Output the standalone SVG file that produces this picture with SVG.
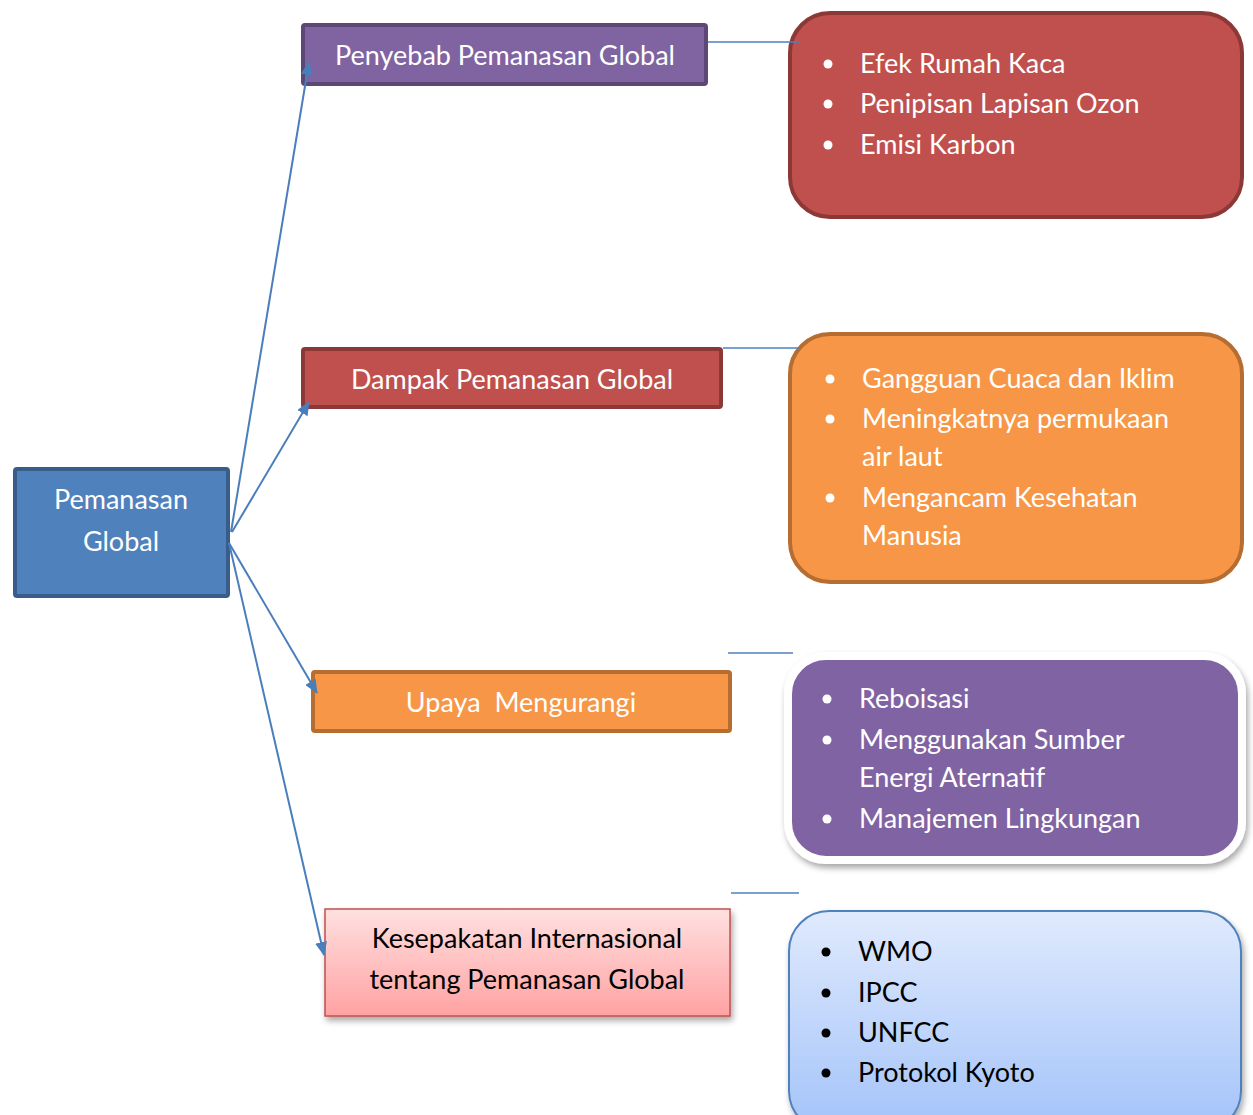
<svg xmlns="http://www.w3.org/2000/svg" width="1253" height="1115" viewBox="0 0 1253 1115">
<defs>
<marker id="arr" viewBox="0 0 14 12" refX="13" refY="6" markerWidth="14" markerHeight="12" markerUnits="userSpaceOnUse" orient="auto">
<path d="M0,0 L14,6 L0,12 z" fill="#4A7EBB"/>
</marker>
<linearGradient id="pink" x1="0" y1="0" x2="0" y2="1">
<stop offset="0" stop-color="#FFE0E0"/><stop offset="1" stop-color="#FFA2A2"/>
</linearGradient>
<linearGradient id="blue" x1="0" y1="0" x2="0" y2="1">
<stop offset="0" stop-color="#E0EAFD"/><stop offset="1" stop-color="#A3C3F9"/>
</linearGradient>
<filter id="sh" x="-10%" y="-10%" width="125%" height="130%">
<feGaussianBlur in="SourceAlpha" stdDeviation="3"/>
<feOffset dx="2" dy="4"/>
<feComponentTransfer><feFuncA type="linear" slope="0.35"/></feComponentTransfer>
<feMerge><feMergeNode/><feMergeNode in="SourceGraphic"/></feMerge>
</filter>
</defs>
<style>
text{font-family:Lato,"Open Sans","Liberation Sans",sans-serif;font-size:27px}
.w{fill:#ffffff}
.k{fill:#000000}
.c{text-anchor:middle}
.con{stroke:#4A7EBB;stroke-width:2;fill:none}
.hl{stroke:#4F81BD;stroke-width:1.5;fill:none}
</style>
<rect width="1253" height="1115" fill="#ffffff"/>
<g id="pemanasan">
<rect x="15" y="469" width="213" height="127" rx="2" fill="#4F81BD" stroke="#385D8A" stroke-width="4"/>
<text class="w c" x="121" y="509">Pemanasan</text>
<text class="w c" x="121" y="551">Global</text>
</g>
<g id="penyebab">
<rect x="303" y="25" width="403" height="59" rx="2" fill="#8064A2" stroke="#5C4776" stroke-width="4"/>
<text class="w c" x="505" y="65">Penyebab Pemanasan Global</text>
</g>
<g id="dampak">
<rect x="303" y="349" width="418" height="58" rx="2" fill="#C0504D" stroke="#8C3836" stroke-width="4"/>
<text class="w c" x="512" y="389">Dampak Pemanasan Global</text>
</g>
<g id="upaya">
<rect x="313" y="672" width="417" height="59" rx="2" fill="#F79646" stroke="#B66D31" stroke-width="4"/>
<text class="w c" x="521" y="712" xml:space="preserve">Upaya  Mengurangi</text>
</g>
<g id="kesepakatan">
<rect x="325" y="909" width="405" height="107" fill="url(#pink)" stroke="#C0504D" stroke-width="1.5" filter="url(#sh)"/>
<text class="k c" x="527" y="948">Kesepakatan Internasional</text>
<text class="k c" x="527" y="989">tentang Pemanasan Global</text>
</g>
<g id="penyebab-list">
<rect x="790" y="13" width="452" height="204" rx="40" fill="#C0504D" stroke="#8C3836" stroke-width="4"/>
<circle cx="828" cy="64" r="4.5" fill="#fff"/><text class="w" x="860" y="73">Efek Rumah Kaca</text>
<circle cx="828" cy="104" r="4.5" fill="#fff"/><text class="w" x="860" y="113">Penipisan Lapisan Ozon</text>
<circle cx="828" cy="145" r="4.5" fill="#fff"/><text class="w" x="860" y="154">Emisi Karbon</text>
</g>
<g id="dampak-list">
<rect x="790" y="334" width="452" height="248" rx="40" fill="#F79646" stroke="#B66D31" stroke-width="4"/>
<circle cx="830" cy="379" r="4.5" fill="#fff"/><text class="w" x="862" y="388">Gangguan Cuaca dan Iklim</text>
<circle cx="830" cy="419" r="4.5" fill="#fff"/><text class="w" x="862" y="428">Meningkatnya permukaan</text>
<text class="w" x="862" y="466">air laut</text>
<circle cx="830" cy="498" r="4.5" fill="#fff"/><text class="w" x="862" y="507">Mengancam Kesehatan</text>
<text class="w" x="862" y="545">Manusia</text>
</g>
<g id="upaya-list">
<rect x="788" y="656" width="454" height="204" rx="38" fill="#8064A2" stroke="#ffffff" stroke-width="8" filter="url(#sh)"/>
<circle cx="827" cy="699" r="4.5" fill="#fff"/><text class="w" x="859" y="708">Reboisasi</text>
<circle cx="827" cy="740" r="4.5" fill="#fff"/><text class="w" x="859" y="749">Menggunakan Sumber</text>
<text class="w" x="859" y="787">Energi Aternatif</text>
<circle cx="827" cy="819" r="4.5" fill="#fff"/><text class="w" x="859" y="828">Manajemen Lingkungan</text>
</g>
<g id="kesepakatan-list">
<rect x="789" y="911" width="452" height="220" rx="40" fill="url(#blue)" stroke="#4F81BD" stroke-width="2" filter="url(#sh)"/>
<circle cx="826" cy="952" r="4.5" fill="#000"/><text class="k" x="858" y="961">WMO</text>
<circle cx="826" cy="993" r="4.5" fill="#000"/><text class="k" x="858" y="1002">IPCC</text>
<circle cx="826" cy="1033" r="4.5" fill="#000"/><text class="k" x="858" y="1042">UNFCC</text>
<circle cx="826" cy="1073" r="4.5" fill="#000"/><text class="k" x="858" y="1082">Protokol Kyoto</text>
</g>
<g id="connectors">
<line class="con" x1="231" y1="532" x2="309" y2="62" marker-end="url(#arr)"/>
<line class="con" x1="232" y1="532" x2="309" y2="402" marker-end="url(#arr)"/>
<line class="con" x1="229" y1="543" x2="317" y2="693" marker-end="url(#arr)"/>
<line class="con" x1="229" y1="543" x2="324" y2="955" marker-end="url(#arr)"/>
<line class="hl" x1="708" y1="42" x2="800" y2="42"/>
<line class="hl" x1="723" y1="348" x2="800" y2="348"/>
<line class="hl" x1="728" y1="653" x2="793" y2="653"/>
<line class="hl" x1="731" y1="893" x2="799" y2="893"/>
</g>
</svg>
